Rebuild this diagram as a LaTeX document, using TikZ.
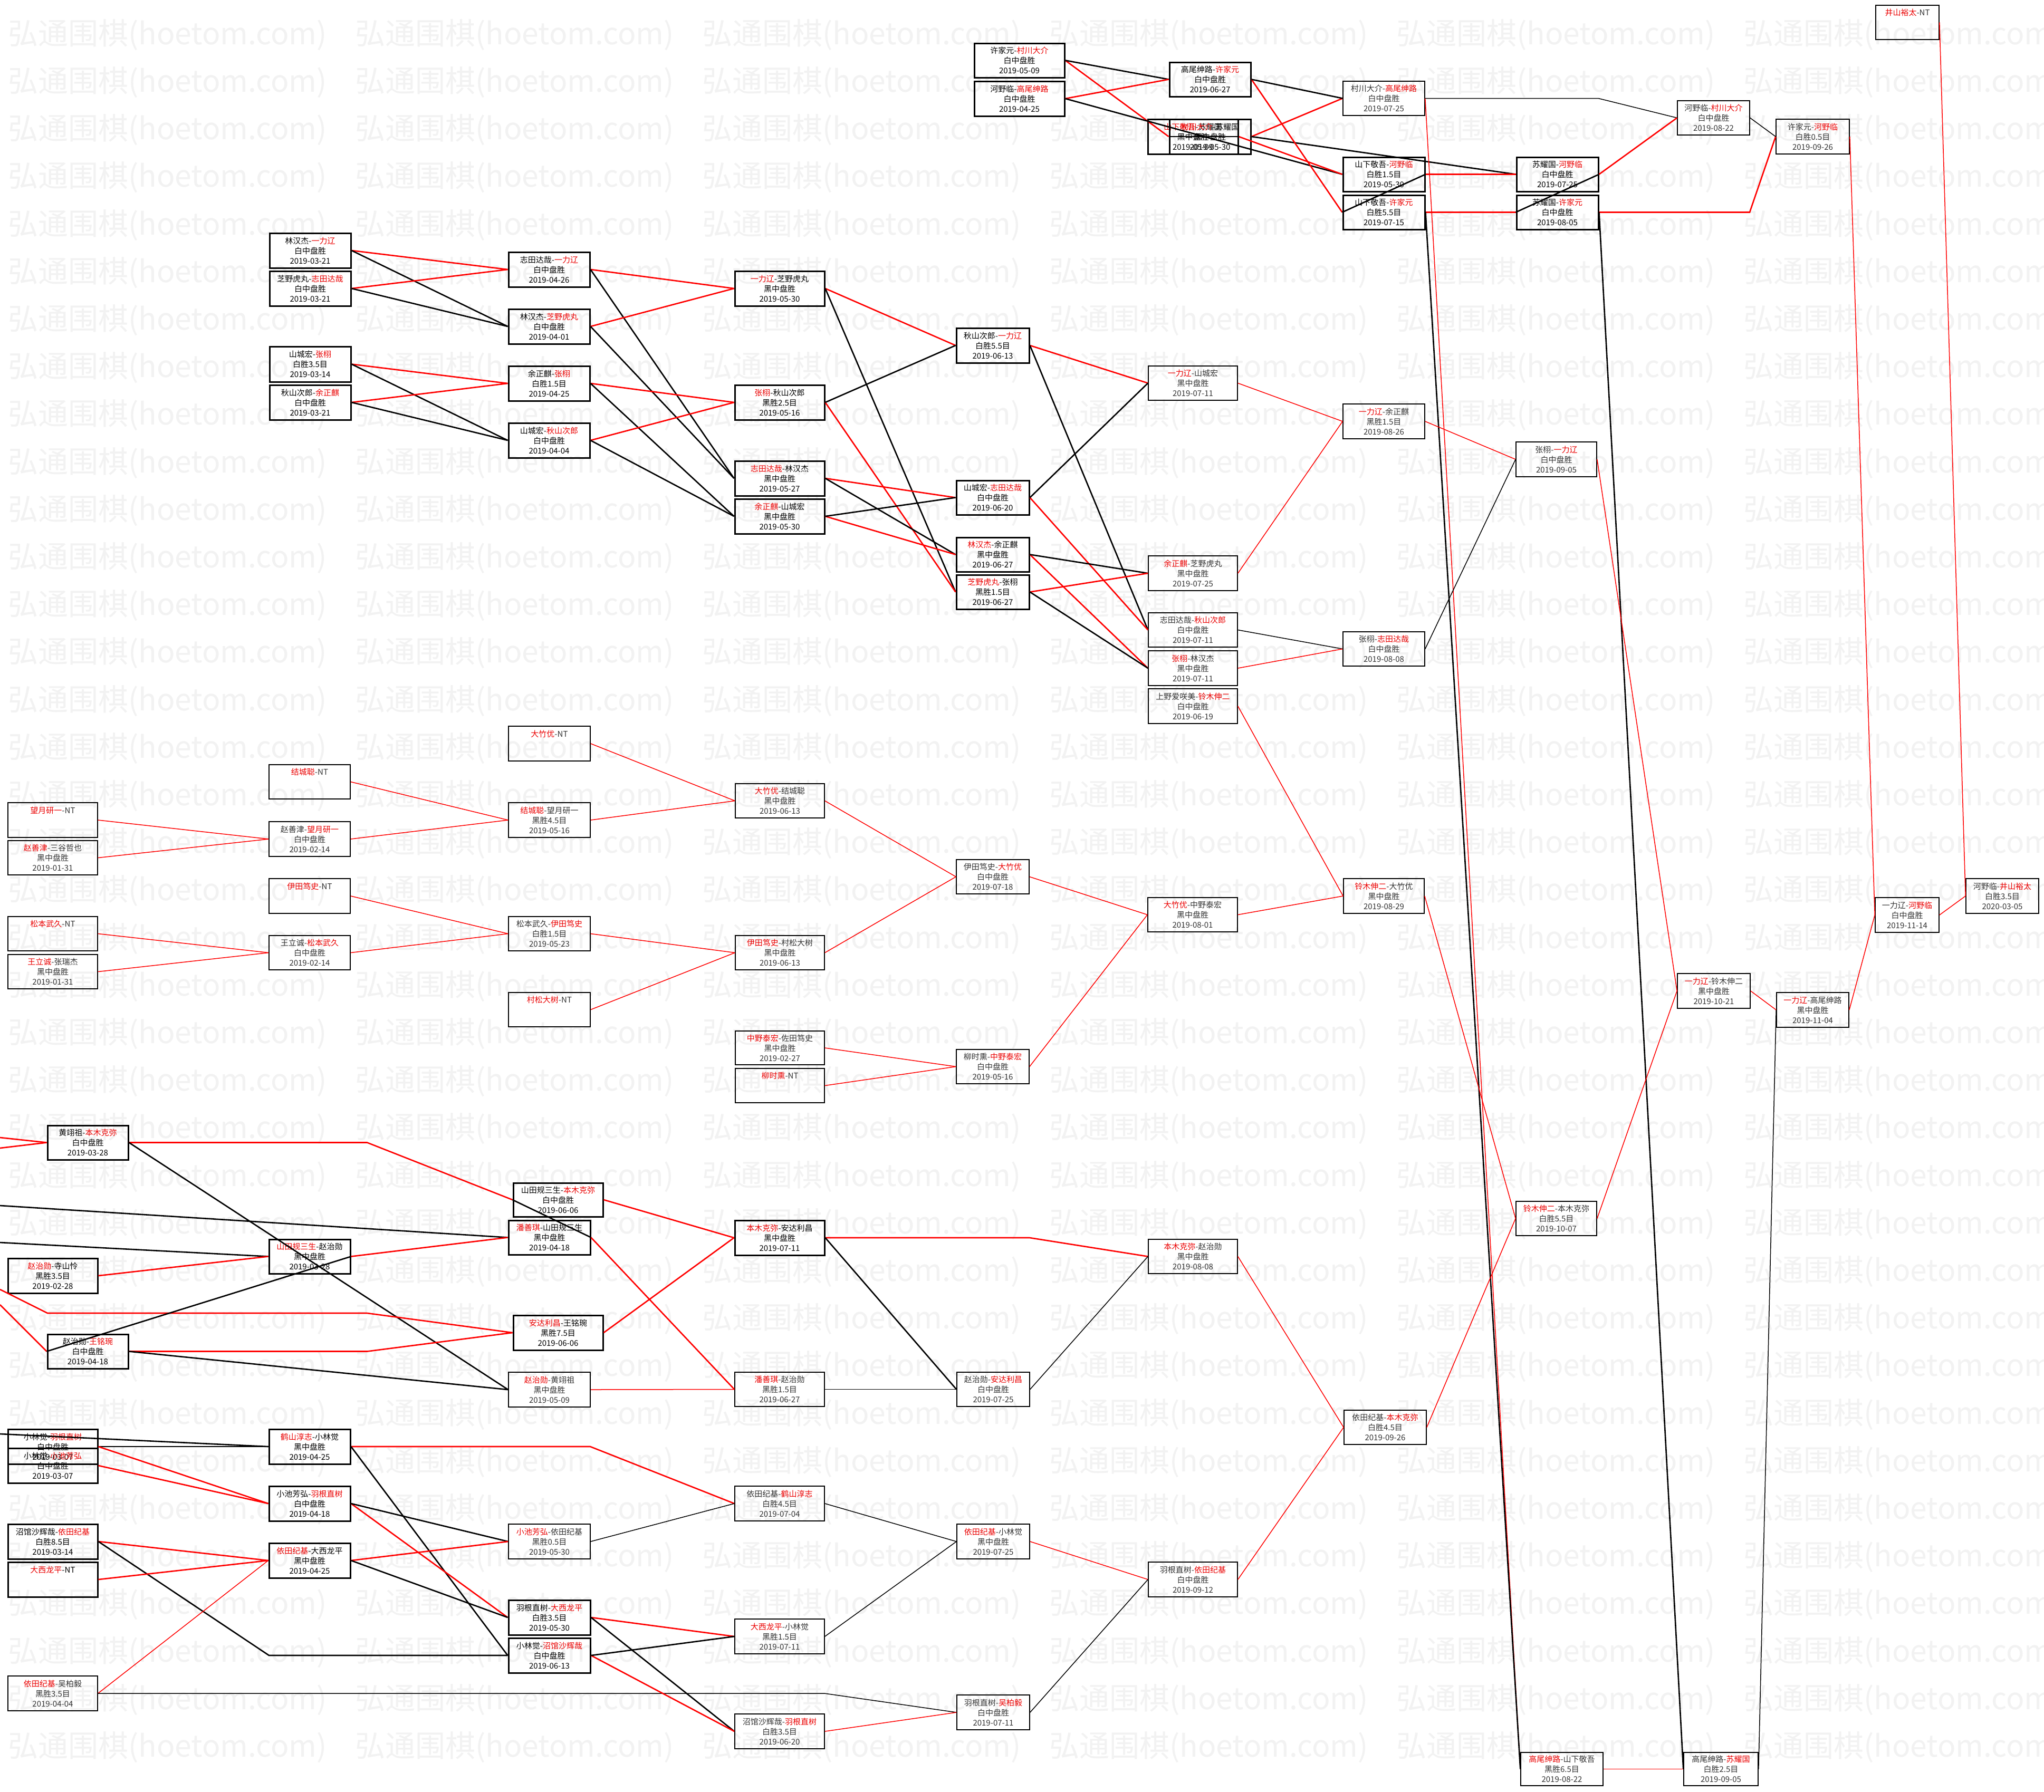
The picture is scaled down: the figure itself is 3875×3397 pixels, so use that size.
\documentclass[tikz,border=0pt]{standalone}
\usepackage{fontspec}
\setmainfont{Noto Sans CJK SC}
\usetikzlibrary{calc}
\definecolor{wred}{RGB}{235,0,0}
\definecolor{lred}{RGB}{255,0,0}
\definecolor{wmgray}{RGB}{242,242,242}
\newcommand\Wa[2]{\textcolor{wred}{#1}-#2}
\newcommand\Wb[2]{#1-\textcolor{wred}{#2}}
\newcommand\gtext{\fontsize{15}{19}\selectfont}
\newcommand\gnode[8]{\node[#2, minimum width={#5-#3}, minimum height={#6-#4}] (#1) at ({(#3+#5)/2},{(#4+#6)/2}) {#7\\#8};}
\tikzset{
  gboxb/.style={draw=black, line width=3pt, inner sep=0pt, align=center, font=\gtext, text=black},
  gboxt/.style={draw=black, line width=1.6pt, inner sep=0pt, align=center, font=\gtext, text=black!80},
  lnR/.style={draw=lred, line width=2.6pt},
  lnK/.style={draw=black, line width=2.6pt},
  lnr/.style={draw=lred, line width=1.5pt},
  lnk/.style={draw=black, line width=1.5pt},
  wmark/.style={inner sep=0pt, anchor=west, text=wmgray, font=\fontsize{57}{57}\selectfont},
}
\begin{document}
\begin{tikzpicture}[x=1pt,y=-1pt]
\useasboundingbox (0,0) rectangle (3875,3397);
\clip (0,0) rectangle (3875,3397);
\fill[white] (0,0) rectangle (3875,3397);
% watermark
\foreach \k in {0,...,36}{\foreach \j in {0,...,5}{
  \node[wmark] (wm-\k-\j) at ({15+658*\j},{66+90.2*\k}) {弘通围棋(hoetom.com)};}}
% ---------------- top
\gnode{xjy_ccdj}{gboxb}{1847}{82}{2018}{147}{\Wb{许家元}{村川大介}}{白中盘胜\\2019-05-09}
\gnode{hyl_gwsl}{gboxb}{1847}{154}{2018}{220}{\Wb{河野临}{高尾绅路}}{白中盘胜\\2019-04-25}
\gnode{gwsl_xjy}{gboxb}{2217}{118}{2371}{183}{\Wb{高尾绅路}{许家元}}{白中盘胜\\2019-06-27}
\gnode{sxjw_syg}{gboxb}{2176}{226}{2347}{292}{\Wa{山下敬吾}{苏耀国}}{黑中盘胜\\2019-05-09}
\gnode{ccdj_syg}{gboxb}{2217}{226}{2371}{292}{\Wa{村川大介}{苏耀国}}{黑中盘胜\\2019-05-30}
\gnode{ccdj_gwsl}{gboxt}{2546}{154}{2701}{219}{\Wb{村川大介}{高尾绅路}}{白中盘胜\\2019-07-25}
\gnode{sxjw_hyl}{gboxb}{2546}{298}{2701}{363}{\Wb{山下敬吾}{河野临}}{白胜1.5目\\2019-05-30}
\gnode{sxjw_xjy}{gboxb}{2546}{370}{2701}{435}{\Wb{山下敬吾}{许家元}}{白胜5.5目\\2019-07-15}
\gnode{syg_hyl}{gboxb}{2875}{298}{3030}{363}{\Wb{苏耀国}{河野临}}{白中盘胜\\2019-07-25}
\gnode{syg_xjy}{gboxb}{2875}{370}{3030}{435}{\Wb{苏耀国}{许家元}}{白中盘胜\\2019-08-05}
\gnode{hyl_ccdj}{gboxt}{3180}{191}{3317}{256}{\Wb{河野临}{村川大介}}{白中盘胜\\2019-08-22}
\gnode{xjy_hyl}{gboxt}{3367}{226}{3506}{292}{\Wb{许家元}{河野临}}{白胜0.5目\\2019-09-26}
\gnode{jsyt_nt}{gboxt}{3556}{10}{3676}{75}{\Wa{井山裕太}{NT}}{~\\~}
\gnode{ylj_hyl}{gboxt}{3555}{1702}{3676}{1768}{\Wb{一力辽}{河野临}}{白中盘胜\\2019-11-14}
\gnode{hyl_jsyt}{gboxt}{3727}{1666}{3865}{1732}{\Wb{河野临}{井山裕太}}{白胜3.5目\\2020-03-05}
\gnode{ylj_lmsr}{gboxt}{3180}{1846}{3318}{1912}{\Wa{一力辽}{铃木伸二}}{黑中盘胜\\2019-10-21}
\gnode{ylj_gwsl}{gboxt}{3368}{1882}{3505}{1948}{\Wa{一力辽}{高尾绅路}}{黑中盘胜\\2019-11-04}
\gnode{lmsr_dzy}{gboxt}{2547}{1666}{2700}{1732}{\Wa{铃木伸二}{大竹优}}{黑中盘胜\\2019-08-29}
\gnode{gwsl_sxjw}{gboxt}{2883}{3323}{3039}{3386}{\Wa{高尾绅路}{山下敬吾}}{黑胜6.5目\\2019-08-22}
\gnode{gwsl_syg}{gboxt}{3192}{3323}{3333}{3386}{\Wb{高尾绅路}{苏耀国}}{白胜2.5目\\2019-09-05}
\gnode{ytjj_bmkm}{gboxt}{2548}{2674}{2704}{2739}{\Wb{依田纪基}{本木克弥}}{白胜4.5目\\2019-09-26}
\gnode{lmsr_bmkm}{gboxt}{2874}{2278}{3027}{2343}{\Wa{铃木伸二}{本木克弥}}{白胜5.5目\\2019-10-07}
\gnode{zx_ylj}{gboxt}{2874}{838}{3027}{904}{\Wb{张栩}{一力辽}}{白中盘胜\\2019-09-05}
% ---------------- left cluster
\gnode{ljh_ylj}{gboxb}{511}{442}{665}{508}{\Wb{林汉杰}{一力辽}}{白中盘胜\\2019-03-21}
\gnode{zyhw_stdz}{gboxb}{511}{514}{665}{580}{\Wb{芝野虎丸}{志田达哉}}{白中盘胜\\2019-03-21}
\gnode{scs_zx}{gboxb}{511}{657}{665}{724}{\Wb{山城宏}{张栩}}{白胜3.5目\\2019-03-14}
\gnode{qscl_yzq}{gboxb}{511}{730}{665}{796}{\Wb{秋山次郎}{余正麒}}{白中盘胜\\2019-03-21}
\gnode{stdz_ylj}{gboxb}{964}{478}{1118}{544}{\Wb{志田达哉}{一力辽}}{白中盘胜\\2019-04-26}
\gnode{ljh_zyhw}{gboxb}{964}{586}{1118}{652}{\Wb{林汉杰}{芝野虎丸}}{白中盘胜\\2019-04-01}
\gnode{yzq_zx}{gboxb}{964}{694}{1118}{760}{\Wb{余正麒}{张栩}}{白胜1.5目\\2019-04-25}
\gnode{scs_qscl}{gboxb}{964}{802}{1118}{868}{\Wb{山城宏}{秋山次郎}}{白中盘胜\\2019-04-04}
\gnode{ylj_zyhw}{gboxb}{1393}{514}{1563}{580}{\Wa{一力辽}{芝野虎丸}}{黑中盘胜\\2019-05-30}
\gnode{zx_qscl}{gboxb}{1393}{730}{1563}{796}{\Wa{张栩}{秋山次郎}}{黑胜2.5目\\2019-05-16}
\gnode{stdz_ljh}{gboxb}{1393}{874}{1563}{940}{\Wa{志田达哉}{林汉杰}}{黑中盘胜\\2019-05-27}
\gnode{yzq_scs}{gboxb}{1393}{946}{1563}{1012}{\Wa{余正麒}{山城宏}}{黑中盘胜\\2019-05-30}
\gnode{qscl_ylj}{gboxb}{1813}{622}{1951}{688}{\Wb{秋山次郎}{一力辽}}{白胜5.5目\\2019-06-13}
\gnode{scs_stdz}{gboxb}{1813}{911}{1951}{976}{\Wb{山城宏}{志田达哉}}{白中盘胜\\2019-06-20}
\gnode{ljh_yzq}{gboxb}{1813}{1019}{1951}{1084}{\Wa{林汉杰}{余正麒}}{黑中盘胜\\2019-06-27}
\gnode{zyhw_zx}{gboxb}{1813}{1090}{1951}{1155}{\Wa{芝野虎丸}{张栩}}{黑胜1.5目\\2019-06-27}
\gnode{ylj_scs}{gboxt}{2177}{694}{2346}{759}{\Wa{一力辽}{山城宏}}{黑中盘胜\\2019-07-11}
\gnode{yzq_zyhw}{gboxt}{2177}{1054}{2346}{1120}{\Wa{余正麒}{芝野虎丸}}{黑中盘胜\\2019-07-25}
\gnode{stdz_qscl}{gboxt}{2177}{1162}{2346}{1227}{\Wb{志田达哉}{秋山次郎}}{白中盘胜\\2019-07-11}
\gnode{zx_ljh}{gboxt}{2177}{1234}{2346}{1300}{\Wa{张栩}{林汉杰}}{黑中盘胜\\2019-07-11}
\gnode{syas_lmsr}{gboxt}{2177}{1306}{2346}{1372}{\Wb{上野爱咲美}{铃木伸二}}{白中盘胜\\2019-06-19}
\gnode{ylj_yzq}{gboxt}{2546}{766}{2701}{832}{\Wa{一力辽}{余正麒}}{黑胜1.5目\\2019-08-26}
\gnode{zx_stdz}{gboxt}{2546}{1198}{2701}{1263}{\Wb{张栩}{志田达哉}}{白中盘胜\\2019-08-08}
% ---------------- middle
\gnode{dzy_nt}{gboxt}{964}{1377}{1119}{1443}{\Wa{大竹优}{NT}}{~\\~}
\gnode{jcc_nt}{gboxt}{510}{1450}{664}{1515}{\Wa{结城聪}{NT}}{~\\~}
\gnode{wyyy_nt}{gboxt}{15}{1522}{185}{1588}{\Wa{望月研一}{NT}}{~\\~}
\gnode{zsj_sgzy}{gboxt}{15}{1594}{185}{1659}{\Wa{赵善津}{三谷哲也}}{黑中盘胜\\2019-01-31}
\gnode{zsj_wyyy}{gboxt}{510}{1558}{664}{1624}{\Wb{赵善津}{望月研一}}{白中盘胜\\2019-02-14}
\gnode{jcc_wyyy}{gboxt}{964}{1522}{1119}{1588}{\Wa{结城聪}{望月研一}}{黑胜4.5目\\2019-05-16}
\gnode{ytds_nt}{gboxt}{510}{1666}{664}{1732}{\Wa{伊田笃史}{NT}}{~\\~}
\gnode{mbwj_nt}{gboxt}{15}{1738}{185}{1803}{\Wa{松本武久}{NT}}{~\\~}
\gnode{wlc_zrj}{gboxt}{15}{1810}{185}{1875}{\Wa{王立诚}{张瑞杰}}{黑中盘胜\\2019-01-31}
\gnode{wlc_mbwj}{gboxt}{510}{1774}{664}{1839}{\Wb{王立诚}{松本武久}}{白中盘胜\\2019-02-14}
\gnode{mbwj_ytds}{gboxt}{964}{1738}{1119}{1803}{\Wb{松本武久}{伊田笃史}}{白胜1.5目\\2019-05-23}
\gnode{csds_nt}{gboxt}{964}{1882}{1119}{1947}{\Wa{村松大树}{NT}}{~\\~}
\gnode{dzy_jcc}{gboxt}{1394}{1486}{1563}{1551}{\Wa{大竹优}{结城聪}}{黑中盘胜\\2019-06-13}
\gnode{ytds_csds}{gboxt}{1394}{1774}{1563}{1839}{\Wa{伊田笃史}{村松大树}}{黑中盘胜\\2019-06-13}
\gnode{ytds_dzy}{gboxt}{1813}{1630}{1951}{1695}{\Wb{伊田笃史}{大竹优}}{白中盘胜\\2019-07-18}
\gnode{dzy_zyth}{gboxt}{2176}{1702}{2346}{1767}{\Wa{大竹优}{中野泰宏}}{黑中盘胜\\2019-08-01}
\gnode{zyth_stds}{gboxt}{1394}{1955}{1563}{2019}{\Wa{中野泰宏}{佐田笃史}}{黑中盘胜\\2019-02-27}
\gnode{lsx_nt}{gboxt}{1394}{2026}{1563}{2091}{\Wa{柳时熏}{NT}}{~\\~}
\gnode{lsx_zyth}{gboxt}{1813}{1990}{1951}{2055}{\Wb{柳时熏}{中野泰宏}}{白中盘胜\\2019-05-16}
% ---------------- bottom
\gnode{hyz_bmkm}{gboxb}{90}{2134}{243}{2199}{\Wb{黄翊祖}{本木克弥}}{白中盘胜\\2019-03-28}
\gnode{stgss_bmkm}{gboxb}{973}{2243}{1143}{2307}{\Wb{山田规三生}{本木克弥}}{白中盘胜\\2019-06-06}
\gnode{psq_stgss}{gboxb}{964}{2314}{1119}{2379}{\Wa{潘善琪}{山田规三生}}{黑中盘胜\\2019-04-18}
\gnode{stgss_zzx}{gboxb}{510}{2350}{664}{2415}{\Wa{山田规三生}{赵治勋}}{黑中盘胜\\2019-03-28}
\gnode{zzx_ssl}{gboxb}{15}{2386}{185}{2452}{\Wa{赵治勋}{寺山怜}}{黑胜3.5目\\2019-02-28}
\gnode{zzx_wmw}{gboxb}{90}{2530}{243}{2595}{\Wb{赵治勋}{王铭琬}}{白中盘胜\\2019-04-18}
\gnode{adlc_wmw}{gboxb}{973}{2494}{1143}{2560}{\Wa{安达利昌}{王铭琬}}{黑胜7.5目\\2019-06-06}
\gnode{zzx_hyz}{gboxt}{964}{2602}{1119}{2668}{\Wa{赵治勋}{黄翊祖}}{黑中盘胜\\2019-05-09}
\gnode{bmkm_adlc}{gboxb}{1393}{2314}{1563}{2380}{\Wa{本木克弥}{安达利昌}}{黑中盘胜\\2019-07-11}
\gnode{psq_zzx}{gboxt}{1393}{2602}{1563}{2667}{\Wa{潘善琪}{赵治勋}}{黑胜1.5目\\2019-06-27}
\gnode{zzx_adlc}{gboxt}{1814}{2602}{1952}{2667}{\Wb{赵治勋}{安达利昌}}{白中盘胜\\2019-07-25}
\gnode{bmkm_zzx}{gboxt}{2177}{2350}{2346}{2415}{\Wa{本木克弥}{赵治勋}}{黑中盘胜\\2019-08-08}
% ---------------- bottom left
\gnode{ov1}{gboxb}{15}{2710}{185}{2776}{\Wb{小林觉}{羽根直树}}{白中盘胜\\2019-03-07}
\gnode{ov2}{gboxb}{15}{2746}{185}{2812}{\Wb{小林觉}{小池芳弘}}{白中盘胜\\2019-03-07}
\gnode{hszz_xlj}{gboxb}{510}{2710}{664}{2776}{\Wa{鹤山淳志}{小林觉}}{黑中盘胜\\2019-04-25}
\gnode{xcfh_ygzs}{gboxb}{510}{2818}{664}{2884}{\Wb{小池芳弘}{羽根直树}}{白中盘胜\\2019-04-18}
\gnode{zgshz_ytjj}{gboxb}{15}{2890}{185}{2956}{\Wb{沼馆沙辉哉}{依田纪基}}{白胜8.5目\\2019-03-14}
\gnode{dxlp_nt}{gboxb}{15}{2962}{185}{3028}{\Wa{大西龙平}{NT}}{~\\~}
\gnode{ytjj_dxlp}{gboxb}{510}{2926}{664}{2992}{\Wa{依田纪基}{大西龙平}}{黑中盘胜\\2019-04-25}
\gnode{ytjj_wby}{gboxt}{15}{3178}{185}{3244}{\Wa{依田纪基}{吴柏毅}}{黑胜3.5目\\2019-04-04}
\gnode{xcfh_ytjj}{gboxt}{964}{2890}{1119}{2956}{\Wa{小池芳弘}{依田纪基}}{黑胜0.5目\\2019-05-30}
\gnode{ygzs_dxlp}{gboxb}{964}{3034}{1119}{3100}{\Wb{羽根直树}{大西龙平}}{白胜3.5目\\2019-05-30}
\gnode{xlj_zgshz}{gboxb}{964}{3106}{1119}{3172}{\Wb{小林觉}{沼馆沙辉哉}}{白中盘胜\\2019-06-13}
\gnode{ytjj_hszz}{gboxt}{1393}{2818}{1563}{2884}{\Wb{依田纪基}{鹤山淳志}}{白胜4.5目\\2019-07-04}
\gnode{ytjj_xlj}{gboxt}{1814}{2890}{1952}{2956}{\Wa{依田纪基}{小林觉}}{黑中盘胜\\2019-07-25}
\gnode{dxlp_xlj}{gboxt}{1393}{3070}{1563}{3136}{\Wa{大西龙平}{小林觉}}{黑胜1.5目\\2019-07-11}
\gnode{ygzs_ytjj}{gboxt}{2177}{2962}{2346}{3028}{\Wb{羽根直树}{依田纪基}}{白中盘胜\\2019-09-12}
\gnode{ygzs_wby}{gboxt}{1814}{3214}{1952}{3280}{\Wb{羽根直树}{吴柏毅}}{白中盘胜\\2019-07-11}
\gnode{zgshz_ygzs}{gboxt}{1393}{3250}{1563}{3316}{\Wb{沼馆沙辉哉}{羽根直树}}{白胜3.5目\\2019-06-20}
% ---------------- route coordinates
\coordinate (c7r) at (3030,0);
\coordinate (c8r) at (3317,0);
\coordinate (c4r) at (1952,0);
\coordinate (c3r) at (1563,0);
\coordinate (c2r) at (1119,0);
\coordinate (c1l) at (510,0);
\coordinate (x696) at (696,0);
\coordinate (oL1) at (0,2157);
\coordinate (oL2) at (0,2177);
\coordinate (oL3) at (0,2286);
\coordinate (oL4) at (0,2356);
\coordinate (oL5) at (0,2445);
\coordinate (oL5a) at (90,2490);
\coordinate (oL5b) at (696,2490);
\coordinate (oL6) at (0,2474);
\coordinate (oB1) at (0,2719);
\coordinate (oB2) at (0,2739);
% ---------------- top edges
\draw[lnR] (xjy_ccdj.east) -- (ccdj_syg.west);
\draw[lnK] (xjy_ccdj.east) -- (gwsl_xjy.west);
\draw[lnR] (hyl_gwsl.east) -- (gwsl_xjy.west);
\draw[lnK] (hyl_gwsl.east) -- (sxjw_hyl.west);
\draw[lnR] (sxjw_syg.east) -- (sxjw_hyl.west);
\draw[lnK] (sxjw_syg.east) -- (ccdj_syg.west);
\draw[lnR] (ccdj_syg.east) -- (ccdj_gwsl.west);
\draw[lnK] (ccdj_syg.east) -- (syg_hyl.west);
\draw[lnR] (gwsl_xjy.east) -- (sxjw_xjy.west);
\draw[lnK] (gwsl_xjy.east) -- (ccdj_gwsl.west);
\draw[lnr] (ccdj_gwsl.east) -- (gwsl_sxjw.west);
\draw[lnk] (ccdj_gwsl.east) -- (ccdj_gwsl.east -| c7r) -- (hyl_ccdj.west);
\draw[lnR] (sxjw_hyl.east) -- (syg_hyl.west);
\draw[lnK] (sxjw_hyl.east) -- (sxjw_xjy.west);
\draw[lnR] (sxjw_xjy.east) -- (syg_xjy.west);
\draw[lnK] (sxjw_xjy.east) -- (gwsl_sxjw.west);
\draw[lnR] (syg_hyl.east) -- (hyl_ccdj.west);
\draw[lnK] (syg_hyl.east) -- (syg_xjy.west);
\draw[lnR] (syg_xjy.east) -- (syg_xjy.east -| c8r) -- (xjy_hyl.west);
\draw[lnK] (syg_xjy.east) -- (gwsl_syg.west);
\draw[lnk] (hyl_ccdj.east) -- (xjy_hyl.west);
\draw[lnr] (xjy_hyl.east) -- (ylj_hyl.west);
\draw[lnr] (ylj_hyl.east) -- (hyl_jsyt.west);
\draw[lnr] (jsyt_nt.east) -- (hyl_jsyt.west);
\draw[lnr] (gwsl_sxjw.east) -- (gwsl_syg.west);
\draw[lnk] (gwsl_syg.east) -- (ylj_gwsl.west);
\draw[lnr] (ylj_lmsr.east) -- (ylj_gwsl.west);
\draw[lnr] (ylj_gwsl.east) -- (ylj_hyl.west);
\draw[lnr] (zx_ylj.east) -- (ylj_lmsr.west);
\draw[lnr] (lmsr_bmkm.east) -- (ylj_lmsr.west);
\draw[lnr] (lmsr_dzy.east) -- (lmsr_bmkm.west);
\draw[lnr] (ytjj_bmkm.east) -- (lmsr_bmkm.west);
\draw[lnr] (ylj_yzq.east) -- (zx_ylj.west);
\draw[lnk] (zx_stdz.east) -- (zx_ylj.west);
% ---------------- middle edges
\draw[lnr] (dzy_nt.east) -- (dzy_jcc.west);
\draw[lnr] (jcc_wyyy.east) -- (dzy_jcc.west);
\draw[lnr] (jcc_nt.east) -- (jcc_wyyy.west);
\draw[lnr] (zsj_wyyy.east) -- (jcc_wyyy.west);
\draw[lnr] (wyyy_nt.east) -- (zsj_wyyy.west);
\draw[lnr] (zsj_sgzy.east) -- (zsj_wyyy.west);
\draw[lnr] (ytds_nt.east) -- (mbwj_ytds.west);
\draw[lnr] (wlc_mbwj.east) -- (mbwj_ytds.west);
\draw[lnr] (mbwj_nt.east) -- (wlc_mbwj.west);
\draw[lnr] (wlc_zrj.east) -- (wlc_mbwj.west);
\draw[lnr] (mbwj_ytds.east) -- (ytds_csds.west);
\draw[lnr] (csds_nt.east) -- (ytds_csds.west);
\draw[lnr] (dzy_jcc.east) -- (ytds_dzy.west);
\draw[lnr] (ytds_csds.east) -- (ytds_dzy.west);
\draw[lnr] (ytds_dzy.east) -- (dzy_zyth.west);
\draw[lnr] (lsx_zyth.east) -- (dzy_zyth.west);
\draw[lnr] (zyth_stds.east) -- (lsx_zyth.west);
\draw[lnr] (lsx_nt.east) -- (lsx_zyth.west);
\draw[lnr] (dzy_zyth.east) -- (lmsr_dzy.west);
\draw[lnr] (syas_lmsr.east) -- (lmsr_dzy.west);
% ---------------- left cluster edges
\draw[lnR] (ljh_ylj.east) -- (stdz_ylj.west);
\draw[lnK] (ljh_ylj.east) -- (ljh_zyhw.west);
\draw[lnR] (zyhw_stdz.east) -- (stdz_ylj.west);
\draw[lnK] (zyhw_stdz.east) -- (ljh_zyhw.west);
\draw[lnR] (scs_zx.east) -- (yzq_zx.west);
\draw[lnK] (scs_zx.east) -- (scs_qscl.west);
\draw[lnR] (qscl_yzq.east) -- (yzq_zx.west);
\draw[lnK] (qscl_yzq.east) -- (scs_qscl.west);
\draw[lnR] (stdz_ylj.east) -- (ylj_zyhw.west);
\draw[lnK] (stdz_ylj.east) -- (stdz_ljh.west);
\draw[lnR] (ljh_zyhw.east) -- (ylj_zyhw.west);
\draw[lnK] (ljh_zyhw.east) -- (stdz_ljh.west);
\draw[lnR] (yzq_zx.east) -- (zx_qscl.west);
\draw[lnK] (yzq_zx.east) -- (yzq_scs.west);
\draw[lnR] (scs_qscl.east) -- (zx_qscl.west);
\draw[lnK] (scs_qscl.east) -- (yzq_scs.west);
\draw[lnR] (ylj_zyhw.east) -- (qscl_ylj.west);
\draw[lnK] (ylj_zyhw.east) -- (zyhw_zx.west);
\draw[lnR] (zx_qscl.east) -- (zyhw_zx.west);
\draw[lnK] (zx_qscl.east) -- (qscl_ylj.west);
\draw[lnR] (stdz_ljh.east) -- (scs_stdz.west);
\draw[lnK] (stdz_ljh.east) -- (ljh_yzq.west);
\draw[lnR] (yzq_scs.east) -- (ljh_yzq.west);
\draw[lnK] (yzq_scs.east) -- (scs_stdz.west);
\draw[lnR] (qscl_ylj.east) -- (ylj_scs.west);
\draw[lnK] (qscl_ylj.east) -- (stdz_qscl.west);
\draw[lnR] (scs_stdz.east) -- (stdz_qscl.west);
\draw[lnK] (scs_stdz.east) -- (ylj_scs.west);
\draw[lnR] (ljh_yzq.east) -- (zx_ljh.west);
\draw[lnK] (ljh_yzq.east) -- (yzq_zyhw.west);
\draw[lnR] (zyhw_zx.east) -- (yzq_zyhw.west);
\draw[lnK] (zyhw_zx.east) -- (zx_ljh.west);
\draw[lnr] (ylj_scs.east) -- (ylj_yzq.west);
\draw[lnr] (yzq_zyhw.east) -- (ylj_yzq.west);
\draw[lnk] (stdz_qscl.east) -- (zx_stdz.west);
\draw[lnr] (zx_ljh.east) -- (zx_stdz.west);
% ---------------- bottom edges
\draw[lnR] (oL1) -- (hyz_bmkm.west);
\draw[lnR] (oL2) -- (hyz_bmkm.west);
\draw[lnR] (hyz_bmkm.east) -- (hyz_bmkm.east -| x696) -- (stgss_bmkm.west);
\draw[lnK] (hyz_bmkm.east) -- (zzx_hyz.west);
\draw[lnK] (oL3) -- (psq_stgss.west);
\draw[lnK] (oL4) -- (stgss_zzx.west);
\draw[lnR] (zzx_ssl.east) -- (stgss_zzx.west);
\draw[lnR] (oL5) -- (oL5a) -- (oL5b) -- (adlc_wmw.west);
\draw[lnR] (oL6) -- (zzx_wmw.west);
\draw[lnR] (stgss_zzx.east) -- (psq_stgss.west);
\draw[lnK] (stgss_zzx.east) -- (zzx_wmw.west);
\draw[lnR] (zzx_wmw.east) -- (zzx_wmw.east -| x696) -- (adlc_wmw.west);
\draw[lnK] (zzx_wmw.east) -- (zzx_hyz.west);
\draw[lnR] (psq_stgss.east) -- (psq_zzx.west);
\draw[lnK] (psq_stgss.east) -- (stgss_bmkm.west);
\draw[lnR] (stgss_bmkm.east) -- (bmkm_adlc.west);
\draw[lnR] (adlc_wmw.east) -- (bmkm_adlc.west);
\draw[lnr] (zzx_hyz.east) -- (psq_zzx.west);
\draw[lnR] (bmkm_adlc.east) -- (bmkm_adlc.east -| c4r) -- (bmkm_zzx.west);
\draw[lnK] (bmkm_adlc.east) -- (zzx_adlc.west);
\draw[lnk] (psq_zzx.east) -- (zzx_adlc.west);
\draw[lnk] (zzx_adlc.east) -- (bmkm_zzx.west);
\draw[lnr] (bmkm_zzx.east) -- (ytjj_bmkm.west);
\draw[lnr] (ygzs_ytjj.east) -- (ytjj_bmkm.west);
% ---------------- bottom-left edges
\draw[lnK] (oB1) -- (hszz_xlj.west);
\draw[lnK] (ov1.east) -- (hszz_xlj.west);
\draw[lnR] (ov1.east) -- (xcfh_ygzs.west);
\draw[lnR] (ov2.east) -- (xcfh_ygzs.west);
\draw[lnR] (hszz_xlj.east) -- (hszz_xlj.east -| c2r) -- (ytjj_hszz.west);
\draw[lnK] (hszz_xlj.east) -- (xlj_zgshz.west);
\draw[lnR] (xcfh_ygzs.east) -- (ygzs_dxlp.west);
\draw[lnK] (xcfh_ygzs.east) -- (xcfh_ytjj.west);
\draw[lnR] (zgshz_ytjj.east) -- (ytjj_dxlp.west);
\draw[lnK] (zgshz_ytjj.east) -- (xlj_zgshz.west -| c1l) -- (xlj_zgshz.west);
\draw[lnR] (dxlp_nt.east) -- (ytjj_dxlp.west);
\draw[lnr] (ytjj_wby.east) -- (ytjj_dxlp.west);
\draw[lnk] (ytjj_wby.east) -- (ytjj_wby.east -| c3r) -- (ygzs_wby.west);
\draw[lnR] (ytjj_dxlp.east) -- (xcfh_ytjj.west);
\draw[lnK] (ytjj_dxlp.east) -- (ygzs_dxlp.west);
\draw[lnk] (xcfh_ytjj.east) -- (ytjj_hszz.west);
\draw[lnR] (ygzs_dxlp.east) -- (dxlp_xlj.west);
\draw[lnK] (ygzs_dxlp.east) -- (zgshz_ygzs.west);
\draw[lnR] (xlj_zgshz.east) -- (zgshz_ygzs.west);
\draw[lnK] (xlj_zgshz.east) -- (dxlp_xlj.west);
\draw[lnk] (ytjj_hszz.east) -- (ytjj_xlj.west);
\draw[lnk] (dxlp_xlj.east) -- (ytjj_xlj.west);
\draw[lnr] (ytjj_xlj.east) -- (ygzs_ytjj.west);
\draw[lnr] (zgshz_ygzs.east) -- (ygzs_wby.west);
\draw[lnk] (ygzs_wby.east) -- (ygzs_ytjj.west);
\end{tikzpicture}
\end{document}
